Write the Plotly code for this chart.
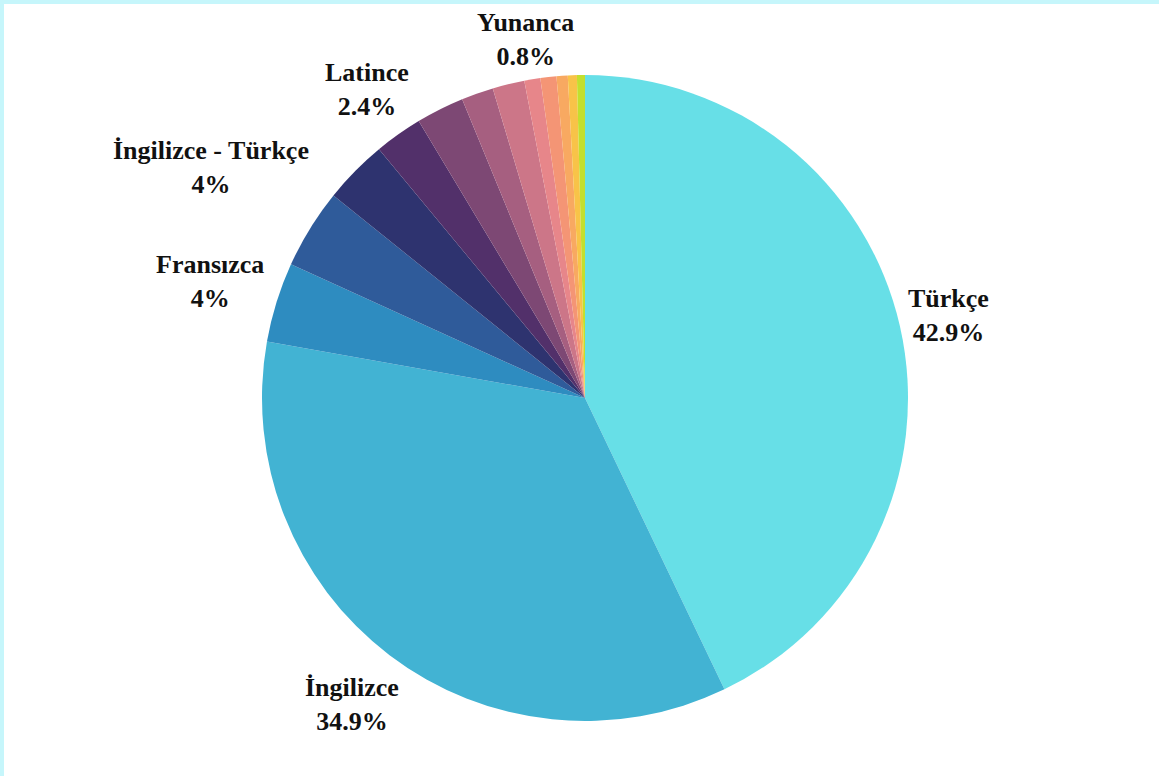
import math
import plotly.graph_objects as go

# ---- data ----
languages = ["Türkçe", "İngilizce", "Fransızca", "İngilizce - Türkçe", "Diğer 1",
             "Latince", "Diğer 2", "Diğer 3", "Diğer 4", "Yunanca",
             "Diğer 5", "Diğer 6", "Diğer 7", "Diğer 8"]
shares = [42.9, 34.9, 4, 4, 3.2, 2.4, 2.4, 1.6, 1.6, 0.8, 0.8, 0.56, 0.45, 0.4]
show_label = [True, True, True, True, False, True, False, False, False, True,
              False, False, False, False]
slice_colors = ["#67DFE7", "#42B3D3", "#2E8CC0", "#2F5B9A", "#2E336F",
                "#52306A", "#7D4874", "#A65F80", "#CC7688", "#E7868A",
                "#F49575", "#F8A961", "#F8C348", "#C3DF2E"]

# ---- layout geometry ----
W, H = 1159, 776
D = 646                      # pie diameter in px (plot area is a square)
ML, MT = 262, 75
MR, MB = W - ML - D, H - MT - D
FONT = "Liberation Serif"
FS = 26
BORDER = "#C6F6FB"

fig = go.Figure(go.Pie(
    labels=languages,
    values=shares,
    sort=False,
    direction="clockwise",
    rotation=0,
    marker=dict(colors=slice_colors, line=dict(width=0)),
    textinfo="none",
    hovertemplate="%{label}: %{value}%<extra></extra>",
    showlegend=False,
))

# ---- outside labels placed tangent to a circle slightly larger than the pie ----
R = D / 2
r0 = R * 1.025
total = sum(shares)
cum = 0.0
annotations = []


def nearest_dist(cx, cy, a, b):
    nx = 0 if abs(cx) <= a else (cx - a if cx > 0 else cx + a)
    ny = 0 if abs(cy) <= b else (cy - b if cy > 0 else cy + b)
    return math.hypot(nx, ny)


for name, v, show in zip(languages, shares, show_label):
    mid = (cum + v / 2) / total * 2 * math.pi
    cum += v
    if not show:
        continue
    pct = f"{v:g}%"
    a = max(len(name), len(pct)) * 0.48 * FS / 2
    b = 1.05 * FS
    sx, sy = math.sin(mid), math.cos(mid)
    lo, hi = 0.0, 3 * R
    for _ in range(60):
        t = (lo + hi) / 2
        if nearest_dist(t * sx, t * sy, a, b) < r0:
            lo = t
        else:
            hi = t
    cx, cy = t * sx, t * sy
    annotations.append(dict(
        x=0.5 + cx / D, y=0.5 + cy / D, xref="paper", yref="paper",
        xanchor="center", yanchor="middle", showarrow=False,
        text=f"{name}<br>{pct}", align="center",
        font=dict(family=FONT, size=FS, color="#111111", weight="bold"),
    ))

# ---- thin cyan frame on top and left edges ----
px_w = 1 / D
shapes = [
    dict(type="rect", xref="paper", yref="paper", line=dict(width=0),
         fillcolor=BORDER, layer="below",
         x0=-ML * px_w, x1=(D + MR) * px_w, y0=1 + (MT - 4) * px_w, y1=1 + MT * px_w),
    dict(type="rect", xref="paper", yref="paper", line=dict(width=0),
         fillcolor=BORDER, layer="below",
         x0=-ML * px_w, x1=(-ML + 4) * px_w, y0=-MB * px_w, y1=1 + MT * px_w),
]

fig.update_layout(
    width=W, height=H,
    margin=dict(l=ML, r=MR, t=MT, b=MB),
    paper_bgcolor="white",
    plot_bgcolor="white",
    annotations=annotations,
    shapes=shapes,
)

fig.write_html("out.html", config={"displayModeBar": False},
               post_script="document.body.style.margin='0';")
